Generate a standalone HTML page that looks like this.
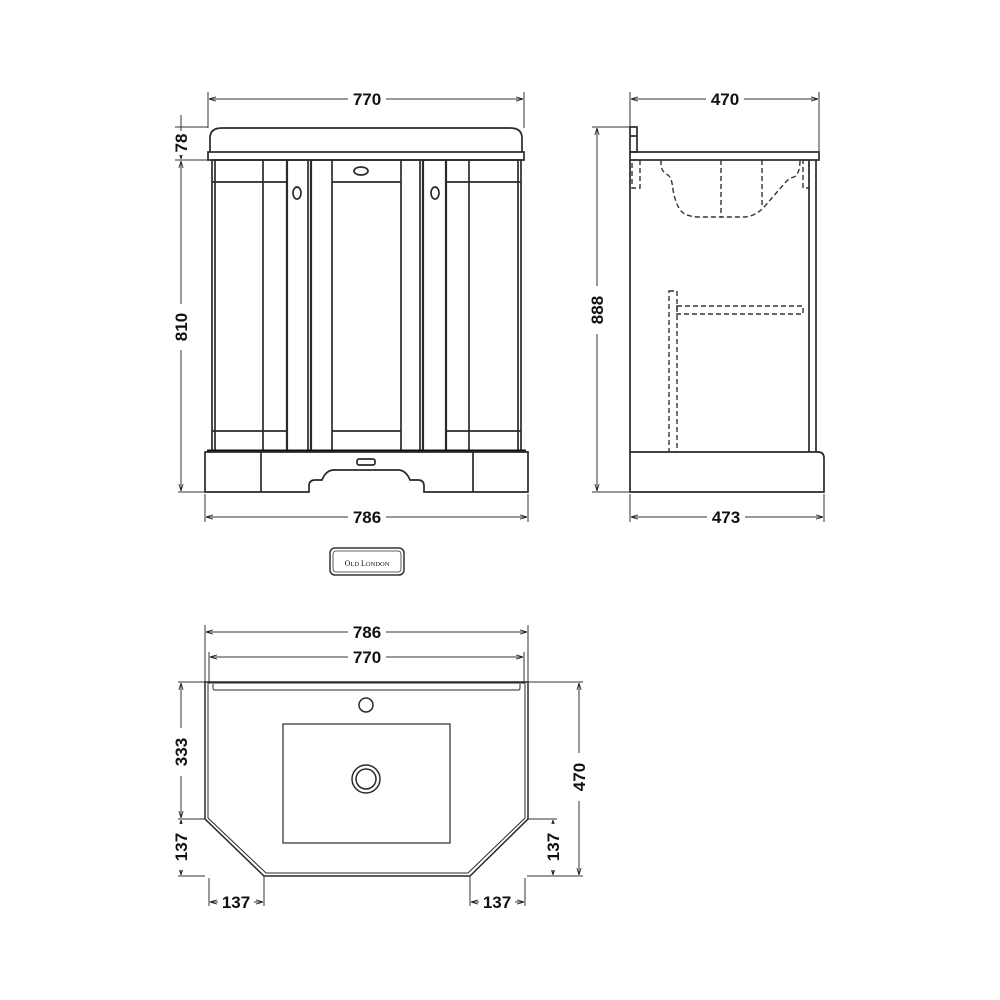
<!DOCTYPE html>
<html><head><meta charset="utf-8"><style>
html,body{margin:0;padding:0;background:#fff;}
svg{display:block}
text{font-family:"Liberation Sans",sans-serif;font-weight:bold;font-size:17px;fill:#111}
</style></head><body>
<svg width="1000" height="1000" viewBox="0 0 1000 1000" xmlns="http://www.w3.org/2000/svg">
<defs>
<marker id="a" viewBox="0 0 10 10" refX="10" refY="5" markerWidth="7" markerHeight="7" orient="auto-start-reverse"><path d="M0,2 L10,5 L0,8" fill="none" stroke="#222" stroke-width="1.2"/></marker>
</defs>
<g stroke="#333" stroke-width="1" fill="none">
<line x1="208" y1="92" x2="208" y2="128"/><line x1="524" y1="92" x2="524" y2="128"/>
<line x1="209" y1="99" x2="523" y2="99" marker-start="url(#a)" marker-end="url(#a)"/>
<line x1="175" y1="127" x2="208" y2="127"/><line x1="175" y1="160" x2="208" y2="160"/>
<line x1="178" y1="492" x2="205" y2="492"/>
<line x1="181" y1="115" x2="181" y2="159" marker-end="url(#a)"/>
<line x1="181" y1="161" x2="181" y2="491" marker-start="url(#a)" marker-end="url(#a)"/>
<line x1="205" y1="494" x2="205" y2="522"/><line x1="528" y1="494" x2="528" y2="522"/>
<line x1="206" y1="517" x2="527" y2="517" marker-start="url(#a)" marker-end="url(#a)"/>
</g>
<g fill="#fff">
<rect x="348" y="90" width="38" height="18"/><rect x="348" y="508" width="38" height="18"/>
<rect x="172" y="131" width="18" height="24"/><rect x="172" y="304" width="18" height="46"/>
</g>
<text x="367" y="105" text-anchor="middle">770</text>
<text x="367" y="523" text-anchor="middle">786</text>
<text transform="translate(187,143) rotate(-90)" text-anchor="middle">78</text>
<text transform="translate(187,327) rotate(-90)" text-anchor="middle">810</text>

<g stroke="#2a2a2a" stroke-width="1.7" fill="none">
<path d="M210,152 L210,138 Q210,128 222,128 L510,128 Q522,128 522,138 L522,152"/>
<rect x="208" y="152" width="316" height="8"/>
<rect x="212" y="160" width="309" height="291"/>
<line x1="215" y1="160" x2="215" y2="451"/>
<line x1="212" y1="182" x2="287" y2="182"/><line x1="212" y1="431" x2="287" y2="431"/>
<line x1="263" y1="160" x2="263" y2="451"/>
<line x1="287" y1="160" x2="287" y2="451" stroke-width="2.2"/>
<line x1="308" y1="160" x2="308" y2="451"/>
<line x1="311" y1="160" x2="311" y2="451" stroke-width="2.2"/>
<ellipse cx="297" cy="193" rx="4" ry="6"/>
<line x1="332" y1="160" x2="332" y2="451"/><line x1="401" y1="160" x2="401" y2="451"/>
<line x1="332" y1="182" x2="401" y2="182"/><line x1="332" y1="431" x2="401" y2="431"/>
<ellipse cx="361" cy="171" rx="7" ry="4"/>
<line x1="420" y1="160" x2="420" y2="451"/>
<line x1="423" y1="160" x2="423" y2="451" stroke-width="2.2"/>
<ellipse cx="435" cy="193" rx="4" ry="6"/>
<line x1="446" y1="160" x2="446" y2="451" stroke-width="2.2"/>
<line x1="446" y1="182" x2="521" y2="182"/><line x1="446" y1="431" x2="521" y2="431"/>
<line x1="469" y1="160" x2="469" y2="451"/>
<line x1="518" y1="160" x2="518" y2="451"/>
<line x1="207" y1="451" x2="526" y2="451" stroke-width="3" stroke="#111"/>
<path d="M205,452 L528,452 L528,492 L424,492 L424,486 Q424,480 418,480 L410,480 Q406,470 398,470 L334,470 Q326,470 322,480 L315,480 Q309,480 309,486 L309,492 L205,492 Z"/>
<line x1="261" y1="452" x2="261" y2="492"/><line x1="473" y1="452" x2="473" y2="492"/>
<rect x="357" y="459" width="18" height="6" rx="2"/>
</g>

<g stroke="#333" stroke-width="1" fill="none">
<line x1="630" y1="92" x2="630" y2="152"/><line x1="819" y1="92" x2="819" y2="152"/>
<line x1="631" y1="99" x2="818" y2="99" marker-start="url(#a)" marker-end="url(#a)"/>
<line x1="592" y1="127" x2="630" y2="127"/><line x1="592" y1="492" x2="630" y2="492"/>
<line x1="597" y1="128" x2="597" y2="491" marker-start="url(#a)" marker-end="url(#a)"/>
<line x1="630" y1="494" x2="630" y2="522"/><line x1="824" y1="494" x2="824" y2="522"/>
<line x1="631" y1="517" x2="823" y2="517" marker-start="url(#a)" marker-end="url(#a)"/>
</g>
<g fill="#fff"><rect x="706" y="90" width="38" height="18"/><rect x="707" y="508" width="38" height="18"/><rect x="588" y="286" width="18" height="48"/></g>
<text x="725" y="105" text-anchor="middle">470</text>
<text x="726" y="523" text-anchor="middle">473</text>
<text transform="translate(603,310) rotate(-90)" text-anchor="middle">888</text>
<g stroke="#2a2a2a" stroke-width="1.7" fill="none">
<rect x="630" y="127" width="7" height="25"/>
<line x1="630" y1="136" x2="637" y2="136"/>
<rect x="630" y="152" width="189" height="8"/>
<line x1="630" y1="160" x2="630" y2="452"/>
<line x1="809" y1="160" x2="809" y2="452"/><line x1="816" y1="160" x2="816" y2="452"/>
<path d="M630,452 L818,452 Q824,452 824,458 L824,492 L630,492 Z"/>
</g>
<g stroke="#333" stroke-width="1.4" fill="none" stroke-dasharray="5,3">
<rect x="632" y="160" width="8" height="28"/>
<rect x="803" y="160" width="6" height="28"/>
<path d="M661,160 L661,166 Q662,172 668,175 Q672,178 673,190 Q676,206 682,212 Q688,217 700,217 L745,217 Q756,216 765,206 L784,184 Q789,178 794,177 Q800,174 800,160"/>
<line x1="721" y1="160" x2="721" y2="217"/>
<line x1="762" y1="160" x2="762" y2="205"/>
<rect x="669" y="291" width="8" height="161"/>
<rect x="677" y="306" width="126" height="8"/>
</g>

<rect x="330" y="548" width="74" height="27" rx="5" fill="none" stroke="#333" stroke-width="1.5"/>
<rect x="333" y="551" width="68" height="21" rx="3" fill="none" stroke="#333" stroke-width="0.8"/>
<text x="367" y="566" text-anchor="middle" style="font-family:'Liberation Serif',serif;font-weight:normal;font-size:8px">O<tspan font-size="6.5">LD</tspan> L<tspan font-size="6.5">ONDON</tspan></text>

<g stroke="#333" stroke-width="1" fill="none">
<line x1="205" y1="625" x2="205" y2="682"/><line x1="528" y1="625" x2="528" y2="682"/>
<line x1="206" y1="632" x2="527" y2="632" marker-start="url(#a)" marker-end="url(#a)"/>
<line x1="209" y1="652" x2="209" y2="682"/><line x1="524" y1="652" x2="524" y2="682"/>
<line x1="210" y1="657" x2="523" y2="657" marker-start="url(#a)" marker-end="url(#a)"/>
<line x1="178" y1="682" x2="205" y2="682"/><line x1="178" y1="819" x2="205" y2="819"/><line x1="178" y1="876" x2="205" y2="876"/>
<line x1="181" y1="683" x2="181" y2="818" marker-start="url(#a)" marker-end="url(#a)"/>
<line x1="181" y1="820" x2="181" y2="875" marker-start="url(#a)" marker-end="url(#a)"/>
<line x1="528" y1="682" x2="583" y2="682"/><line x1="527" y1="876" x2="583" y2="876"/><line x1="528" y1="819" x2="557" y2="819"/>
<line x1="579" y1="683" x2="579" y2="875" marker-start="url(#a)" marker-end="url(#a)"/>
<line x1="553" y1="820" x2="553" y2="875" marker-start="url(#a)" marker-end="url(#a)"/>
<line x1="209" y1="878" x2="209" y2="906"/><line x1="264" y1="876" x2="264" y2="906"/>
<line x1="210" y1="902" x2="263" y2="902" marker-start="url(#a)" marker-end="url(#a)"/>
<line x1="470" y1="876" x2="470" y2="906"/><line x1="525" y1="878" x2="525" y2="906"/>
<line x1="471" y1="902" x2="524" y2="902" marker-start="url(#a)" marker-end="url(#a)"/>
</g>
<g fill="#fff">
<rect x="348" y="623" width="38" height="18"/><rect x="348" y="648" width="38" height="18"/>
<rect x="172" y="728" width="18" height="48"/><rect x="172" y="824" width="18" height="46"/>
<rect x="570" y="753" width="18" height="48"/><rect x="544" y="824" width="18" height="46"/>
<rect x="218" y="893" width="36" height="18"/><rect x="479" y="893" width="36" height="18"/>
</g>
<text x="367" y="638" text-anchor="middle">786</text>
<text x="367" y="663" text-anchor="middle">770</text>
<text transform="translate(187,752) rotate(-90)" text-anchor="middle">333</text>
<text transform="translate(187,847) rotate(-90)" text-anchor="middle">137</text>
<text transform="translate(585,777) rotate(-90)" text-anchor="middle">470</text>
<text transform="translate(559,847) rotate(-90)" text-anchor="middle">137</text>
<text x="236" y="908" text-anchor="middle">137</text>
<text x="497" y="908" text-anchor="middle">137</text>
<g stroke="#2a2a2a" stroke-width="1.5" fill="none">
<polygon points="205,682 528,682 528,819 470,876 264,876 205,819"/>
<polygon points="208,683 525,683 525,818 468,873 266,873 208,818" stroke-width="1"/>
<path d="M213,684 L213,688 Q213,690 215,690 L518,690 Q520,690 520,688 L520,684" stroke-width="1"/>
<circle cx="366" cy="705" r="7"/>
<rect x="283" y="724" width="167" height="119" stroke-width="1.2"/>
<circle cx="366" cy="779" r="14"/>
<circle cx="366" cy="779" r="10"/>
</g>
</svg>
</body></html>
